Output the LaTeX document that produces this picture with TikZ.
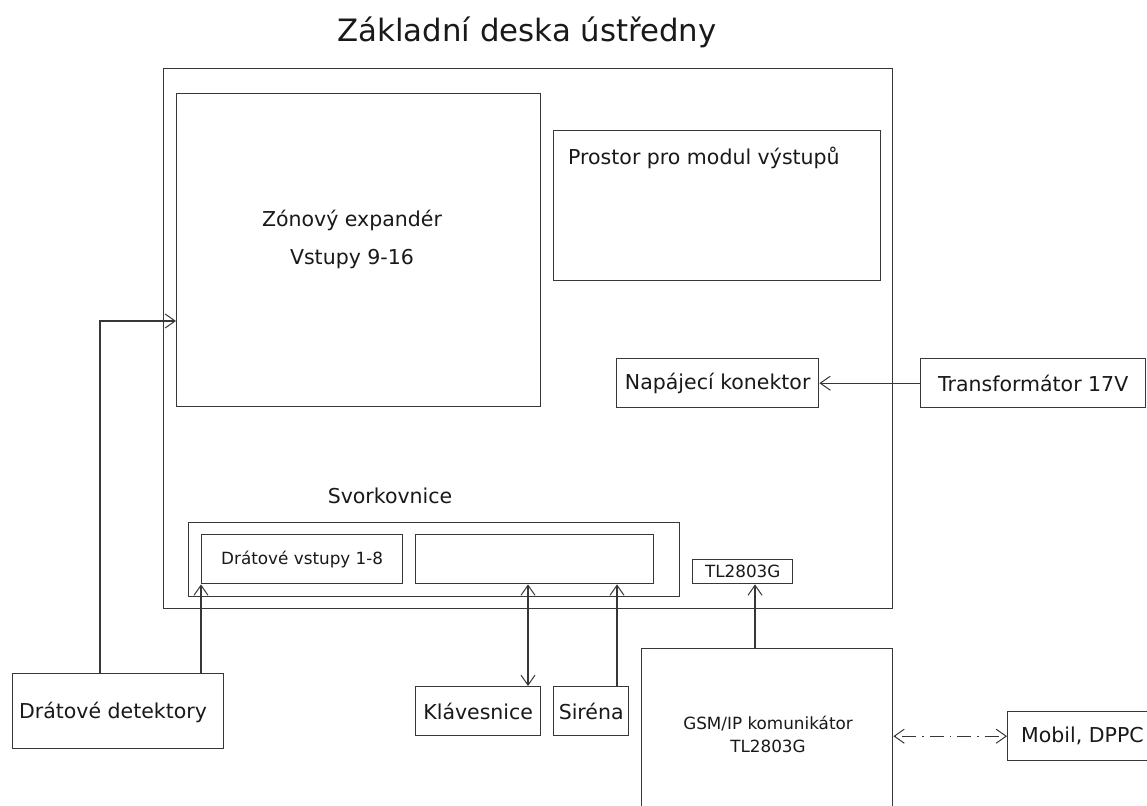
\documentclass[tikz,border=0pt]{standalone}
\usepackage{fontspec}
\setmainfont{DejaVu Sans}
\usetikzlibrary{arrows.meta,calc}
\definecolor{linecol}{RGB}{55,55,55}
\definecolor{txtcol}{RGB}{25,25,25}
\begin{document}
\begin{tikzpicture}[x=1pt,y=-1pt,
  box/.style={draw=linecol, line width=1.4pt, inner sep=0pt, anchor=north west, text=txtcol, font=\fontsize{20.5}{24}\selectfont},
  smallbox/.style={box, font=\fontsize{16.8}{20}\selectfont},
  lbl/.style={inner sep=0pt, text=txtcol, font=\fontsize{20.5}{24}\selectfont},
  smalllbl/.style={lbl, font=\fontsize{16.8}{20}\selectfont},
  arr/.style={draw=linecol, line width=1.3pt, -{Straight Barb[length=10pt,width=14pt,line width=1pt]}},
  dblarr/.style={draw=linecol, line width=1.3pt, {Straight Barb[length=10pt,width=14pt,line width=1pt]}-{Straight Barb[length=10pt,width=14pt,line width=1pt]}}
]
\clip (0,0) rectangle (1147,805);
\useasboundingbox (0,0) rectangle (1147,805);
\fill[white] (0,0) rectangle (1147,805);

% title
\node[lbl, font=\fontsize{30.8}{36}\selectfont] (title) at (527,32) {Základní deska ústředny};

% main board
\node[box, minimum width=729pt, minimum height=540pt] (board) at (163,68) {};

% zone expander
\node[box, minimum width=364pt, minimum height=313pt] (zone) at (176,93) {};
\node[lbl] (zonet1) at (352,220) {Zónový expandér};
\node[lbl] (zonet2) at (352,259) {Vstupy 9-16};

% space for output module
\node[box, minimum width=327pt, minimum height=150pt] (prostor) at (553,130) {};
\node[lbl, anchor=west] (prostort) at (568,158) {Prostor pro modul výstupů};

% power
\node[box, minimum width=202pt, minimum height=49pt] (nap) at (616,358) {Napájecí konektor};
\node[box, minimum width=225pt, minimum height=49pt] (trans) at (920,358) {Transformátor 17V};

% terminal block
\node[lbl] (svorkt) at (390,496) {Svorkovnice};
\node[box, minimum width=491pt, minimum height=74pt] (svork) at (188,522) {};
\node[smallbox, minimum width=201pt, minimum height=49pt] (vstupy) at (201,534) {Drátové vstupy 1-8};
\node[box, minimum width=238pt, minimum height=49pt] (blank) at (415,534) {};

% TL2803G connector
\node[smallbox, minimum width=100pt, minimum height=24pt] (tl) at (692,559) {TL2803G};

% external devices
\node[box, minimum width=211pt, minimum height=75pt] (det) at (12,673) {};
\node[lbl] (dett) at (113,712) {Drátové detektory};
\node[box, minimum width=125pt, minimum height=49pt] (klav) at (415,686) {Klávesnice};
\node[box, minimum width=75pt, minimum height=49pt] (siren) at (553,686) {Siréna};
\node[box, minimum width=251pt, minimum height=190pt] (gsm) at (641,648) {};
\node[smalllbl] (gsmt1) at (768,724) {GSM/IP komunikátor};
\node[smalllbl] (gsmt2) at (768,746) {TL2803G};
\node[box, minimum width=170pt, minimum height=49pt] (mobil) at (1007,711) {};
\node[lbl, anchor=west] (mobilt) at (1021,736) {Mobil, DPPC};

% helper coordinates for connector x positions
\coordinate (dx) at (100,0);
\coordinate (zy) at (0,321);
\coordinate (vx) at (201,0);
\coordinate (kx) at (528,0);
\coordinate (sx) at (617,0);
\coordinate (tx) at (755,0);

% connectors
\draw[arr] (det.north -| dx) |- (zone.west |- zy);
\draw[arr] (det.north -| vx) -- (vstupy.south -| vx);
\draw[dblarr] (blank.south -| kx) -- (klav.north -| kx);
\draw[arr] (siren.north -| sx) -- (blank.south -| sx);
\draw[arr] (gsm.north -| tx) -- (tl.south -| tx);
\draw[arr] (trans.west) -- (nap.east);
\draw[dblarr, dash pattern=on 1.5pt off 6pt on 14pt off 6pt] (gsm.east |- mobil.west) -- (mobil.west);
\end{tikzpicture}
\end{document}
